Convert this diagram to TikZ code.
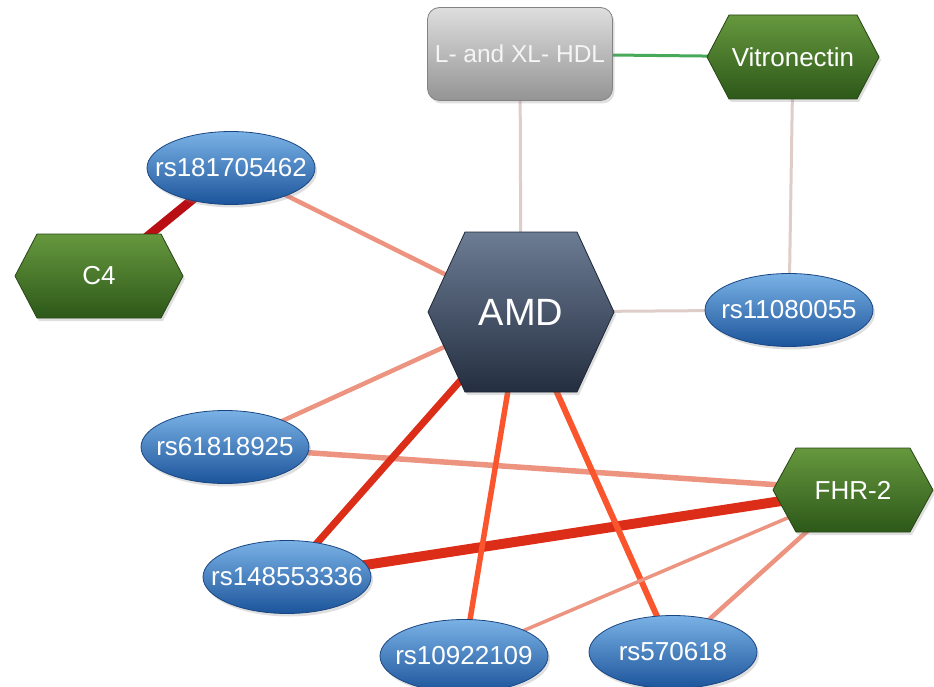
\documentclass[tikz,border=0pt]{standalone}
\usepackage{fontspec}
\setmainfont{Liberation Sans}
\usetikzlibrary{shapes.geometric,backgrounds,shadows}
\definecolor{lightedge}{RGB}{222,205,200}
\definecolor{greenedge}{RGB}{70,170,90}
\definecolor{darkredge}{RGB}{185,15,20}
\definecolor{salmonedge}{RGB}{236,148,128}
\definecolor{rededge}{RGB}{220,45,25}
\definecolor{orangeedge}{RGB}{250,85,45}
\newcommand\hexnode[8]{%
  \path[#7] ({#2-#4},#3) -- ({#2-#4+#6},{#3-#5}) -- ({#2+#4-#6},{#3-#5}) -- ({#2+#4},#3) -- ({#2+#4-#6},{#3+#5}) -- ({#2-#4+#6},{#3+#5}) -- cycle;
  \node[hextext,minimum width={2*#4},minimum height={2*#5}] (#1) at (#2,#3) {#8};}
\newcommand\snplabel[1]{\makebox[0pt][c]{#1}}
\tikzset{
  snp/.style={ellipse, draw={rgb,255:red,25;green,70;blue,130}, line width=0.8pt,
    top color={rgb,255:red,122;green,178;blue,230}, middle color={rgb,255:red,55;green,122;blue,195},
    bottom color={rgb,255:red,28;green,84;blue,155},
    minimum width=168pt, minimum height=73pt, inner sep=0pt, text=white,
    font=\fontsize{26}{28}\selectfont,
    drop shadow={opacity=0.25, shadow xshift=2pt, shadow yshift=-3pt}},
  greenhex/.style={draw={rgb,255:red,40;green,70;blue,20}, line width=0.8pt,
    top color={rgb,255:red,102;green,152;blue,62}, bottom color={rgb,255:red,45;green,88;blue,25},
    drop shadow={opacity=0.25, shadow xshift=2pt, shadow yshift=-3pt}},
  amdhex/.style={draw={rgb,255:red,30;green,40;blue,55}, line width=0.8pt,
    top color={rgb,255:red,108;green,124;blue,148}, bottom color={rgb,255:red,36;green,46;blue,64},
    drop shadow={opacity=0.25, shadow xshift=2pt, shadow yshift=-3pt}},
  hextext/.style={shape=rectangle, draw=none, inner sep=0pt, text=white, font=\fontsize{26}{28}\selectfont},
  hdlbox/.style={rectangle, rounded corners=12pt, draw={rgb,255:red,130;green,130;blue,130}, line width=0.8pt,
    top color={rgb,255:red,222;green,222;blue,222}, bottom color={rgb,255:red,148;green,148;blue,148},
    minimum width=185pt, minimum height=93pt, inner sep=0pt, text={rgb,255:red,245;green,245;blue,245},
    font=\fontsize{24.5}{26}\selectfont,
    drop shadow={opacity=0.25, shadow xshift=2pt, shadow yshift=-3pt}},
  edge/.style={line cap=butt}
}
\begin{document}
\begin{tikzpicture}[x=1pt,y=-1pt]
\useasboundingbox (0,0) rectangle (934,687);
% nodes
\node[hdlbox] (hdl) at (520,54) {L- and XL- HDL};
\hexnode{vit}{793}{57}{86}{42}{22}{greenhex}{Vitronectin}
\hexnode{c4}{99}{276}{84}{42}{22}{greenhex}{C4}
\hexnode{fhr}{853}{490}{80}{42}{23}{greenhex}{FHR-2}
\hexnode{amd}{521}{312}{93}{80}{37}{amdhex}{\fontsize{38}{40}\selectfont AMD}
\node[snp] (s1) at (231,168) {\snplabel{rs181705462}};
\node[snp] (s2) at (789,310) {\snplabel{rs11080055}};
\node[snp] (s3) at (225,447) {\snplabel{rs61818925}};
\node[snp] (s4) at (287,577) {\snplabel{rs148553336}};
\node[snp] (s5) at (464,656) {\snplabel{rs10922109}};
\node[snp] (s6) at (673,652) {\snplabel{rs570618}};
% edges
\begin{pgfonlayer}{background}
\draw[edge, greenedge, line width=3pt] (hdl.center) -- (vit.center);
\draw[edge, lightedge, line width=3pt] (hdl.center) -- (amd.center);
\draw[edge, lightedge, line width=3pt] (vit.center) -- (s2.center);
\draw[edge, lightedge, line width=3pt] (amd.center) -- (s2.center);
\draw[edge, darkredge, line width=9pt] (s1.center) -- (c4.center);
\draw[edge, salmonedge, line width=4.5pt] (s1.center) -- (amd.center);
\draw[edge, salmonedge, line width=4.5pt] (amd.center) -- (s3.center);
\draw[edge, salmonedge, line width=5.5pt] (s3.center) -- (fhr.center);
\draw[edge, rededge, line width=7pt] (amd.center) -- (s4.center);
\draw[edge, rededge, line width=10pt] (s4.center) -- (fhr.center);
\draw[edge, orangeedge, line width=5.5pt] (amd.center) -- (s5.center);
\draw[edge, orangeedge, line width=6pt] (amd.center) -- (s6.center);
\draw[edge, salmonedge, line width=3.5pt] (fhr.center) -- (s5.center);
\draw[edge, salmonedge, line width=4.5pt] (fhr.center) -- (s6.center);
\end{pgfonlayer}
\end{tikzpicture}
\end{document}
